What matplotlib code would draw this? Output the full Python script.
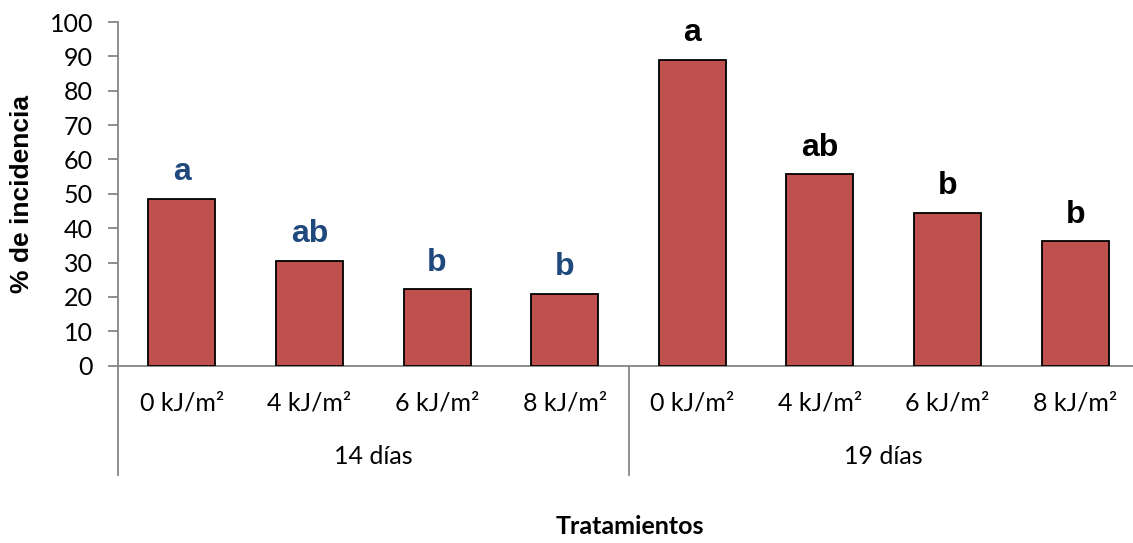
import matplotlib.pyplot as plt
from matplotlib.transforms import blended_transform_factory

# values
doses = ['0 kJ/m²', '4 kJ/m²', '6 kJ/m²', '8 kJ/m²']
groups = ['14 días', '19 días']
incidence_14 = [48.5, 30.5, 22.2, 20.9]
incidence_19 = [88.9, 55.7, 44.5, 36.2]
letters_14 = ['a', 'ab', 'b', 'b']
letters_19 = ['a', 'ab', 'b', 'b']

values = incidence_14 + incidence_19
letters = letters_14 + letters_19
labels = doses + doses
letter_colors = ['#1F497D'] * 4 + ['black'] * 4
x = list(range(len(values)))

W, H = 1133, 543
fig = plt.figure(figsize=(W / 100, H / 100), dpi=100)
# axes run a bit past the right edge, as in the original
ax = fig.add_axes([118 / W, (H - 365.7) / H, 1021 / W, 343.7 / H])

gray = '#868686'
ax.bar(x, values, width=0.525, color='#C0504D', edgecolor='black', linewidth=1.3, zorder=3)

ax.set_xlim(-0.5, 7.5)
ax.set_ylim(0, 100)
ax.set_yticks(range(0, 101, 10))
ax.tick_params(axis='y', direction='out', length=7, width=1.3, color=gray, pad=11,
               labelsize=18)
for lab in ax.get_yticklabels():
    lab.set_fontfamily('Lato')

ax.set_xticks([])
for side in ['top', 'right']:
    ax.spines[side].set_visible(False)
for side in ['left', 'bottom']:
    ax.spines[side].set_color(gray)
    ax.spines[side].set_linewidth(1.3)

# significance letters above bars
for xi, v, t, c in zip(x, values, letters, letter_colors):
    ax.annotate(t, (xi, v), xytext=(0, 13.5), textcoords='offset points', ha='center',
                va='baseline', fontsize=23, fontweight='bold', color=c,
                family='Liberation Sans')

# two-level category axis
trans = blended_transform_factory(ax.transData, ax.transAxes)
px = 1 / 343.7
for xi, lab in zip(x, labels):
    ax.text(xi, -(403 - 365.7) * px, lab, transform=trans, ha='center', va='center',
            fontsize=18, family='Lato')
for gi, g in enumerate(groups):
    ax.text(gi * 4 + 1.5, -(457 - 365.7) * px, g, transform=trans, ha='center',
            va='center', fontsize=18, family='Lato')
for xb in [-0.5, 3.5, 7.5]:
    ax.plot([xb, xb], [0, -(475 - 365.7) * px], transform=trans, color=gray,
            linewidth=1.3, clip_on=False)

fig.text(22 / W, 1 - 194 / H, '% de incidencia', rotation=90, ha='center', va='center',
         fontsize=19, fontweight='bold', family='Liberation Sans')
fig.text(630 / W, 1 - 527 / H, 'Tratamientos', ha='center', va='center',
         fontsize=18, fontweight='bold', family='Lato')

fig.savefig('out.png', dpi=100)
